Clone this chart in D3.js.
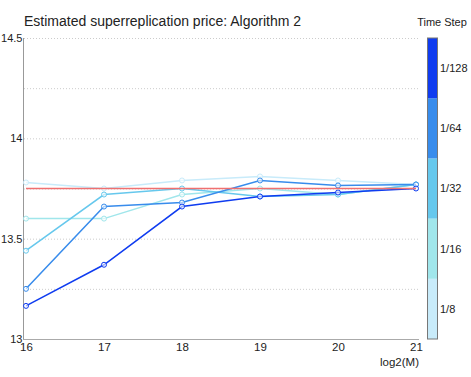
<!DOCTYPE html>
<html lang="en">
<head>
<meta charset="UTF-8">
<title>Estimated superreplication price: Algorithm 2</title>
<script src="https://d3js.org/d3.v7.min.js"></script>
<style>
    body { margin: 0; background: #fff; }
    svg { font-family: "Liberation Sans", Arial, sans-serif; }
    .line { fill: none; stroke-width: 1.5; }
    .dot { fill: #fff; fill-opacity: 0.6; stroke-width: 1; }
    .grid line { stroke: #ccc; stroke-dasharray: 1,2; }
</style>
</head>
<body>
<svg id="chart" width="471" height="377"></svg>
<script>
    // x values (log2 of sample size)
    const logM = [16, 17, 18, 19, 20, 21];

    // one series per time step
    const timeSteps = ["1/8", "1/16", "1/32", "1/64", "1/128"];
    const stepColors = ["#c8ebfa", "#a0e6eb", "#66c8ed", "#388cec", "#0f3cf0"];
    const price_1_8 = [13.78, 13.75, 13.79, 13.81, 13.79, 13.77];
    const price_1_16 = [13.60, 13.60, 13.72, 13.75, 13.72, 13.77];
    const price_1_32 = [13.44, 13.72, 13.75, 13.71, 13.72, 13.77];
    const price_1_64 = [13.25, 13.66, 13.68, 13.79, 13.765, 13.77];
    const price_1_128 = [13.165, 13.37, 13.66, 13.71, 13.73, 13.75];
    const series = [price_1_8, price_1_16, price_1_32, price_1_64, price_1_128];

    // reference price (red line)
    const refPrice = 13.75;

    const yLabelTicks = [13, 13.5, 14, 14.5];
    const yGridTicks = [13.25, 13.5, 13.75, 14, 14.25, 14.5];

    const svg = d3.select("#chart");

    const x = d3.scaleLinear().domain([16, 21]).range([26, 416]);
    const y = d3.scaleLinear().domain([13, 14.5]).range([339, 38]);

    // gridlines
    svg.append("g")
        .attr("class", "grid")
        .selectAll("line")
        .data(yGridTicks)
        .enter().append("line")
        .attr("x1", 24).attr("x2", 419)
        .attr("y1", d => y(d) + 0.5).attr("y2", d => y(d) + 0.5);

    // axes
    const yAxis = svg.append("g")
        .attr("transform", "translate(23.5,0)")
        .call(d3.axisLeft(y).tickValues(yLabelTicks).tickSize(0).tickPadding(1).tickFormat(d3.format("")));
    yAxis.select(".domain").attr("stroke", "#999").attr("d", `M0,${y(14.5)}V${y(13)}`);
    yAxis.selectAll("text").attr("font-size", 11).attr("fill", "#222").attr("font-family", "Liberation Sans, Arial, sans-serif");

    const xAxis = svg.append("g")
        .attr("transform", "translate(0,339.5)")
        .call(d3.axisBottom(x).tickValues(logM).tickSize(0).tickPadding(3).tickFormat(d3.format("d")));
    xAxis.select(".domain").attr("stroke", "#aaa").attr("d", "M23,0H419");
    xAxis.selectAll("text").attr("font-size", 11.5).attr("fill", "#222").attr("font-family", "Liberation Sans, Arial, sans-serif");

    svg.append("text")
        .attr("x", 419).attr("y", 366)
        .attr("text-anchor", "end")
        .attr("font-size", 11.5)
        .attr("fill", "#222")
        .text("log2(M)");

    // series lines and markers
    const line = d3.line().x((d, i) => x(logM[i])).y(d => y(d));
    series.forEach((vals, k) => {
        svg.append("path")
            .datum(vals)
            .attr("class", "line")
            .attr("stroke", stepColors[k])
            .attr("d", line);
        svg.selectAll(".dot-" + k)
            .data(vals)
            .enter().append("circle")
            .attr("class", "dot dot-" + k)
            .attr("stroke", stepColors[k])
            .attr("cx", (d, i) => x(logM[i]))
            .attr("cy", d => y(d))
            .attr("r", 2.5);
    });

    // reference line
    svg.append("line")
        .attr("x1", x(16)).attr("x2", x(21))
        .attr("y1", y(refPrice)).attr("y2", y(refPrice))
        .attr("stroke", "#f07070")
        .attr("stroke-width", 1.5);

    // title
    svg.append("text")
        .attr("x", 24).attr("y", 26)
        .attr("font-size", 14)
        .attr("fill", "#222")
        .text("Estimated superreplication price: Algorithm 2");

    // colour bar legend (top = finest step)
    const bandScale = d3.scaleBand()
        .domain(timeSteps.slice().reverse())
        .range([38, 339]);
    const legend = svg.append("g");
    legend.selectAll("rect")
        .data(timeSteps)
        .enter().append("rect")
        .attr("x", 427.5)
        .attr("y", d => bandScale(d))
        .attr("width", 10)
        .attr("height", bandScale.bandwidth())
        .attr("fill", (d, i) => stepColors[i]);
    legend.append("rect")
        .attr("x", 427.5).attr("y", 38)
        .attr("width", 10).attr("height", 301)
        .attr("fill", "none")
        .attr("stroke", "#777");
    legend.selectAll("text.step")
        .data(timeSteps)
        .enter().append("text")
        .attr("class", "step")
        .attr("x", 440)
        .attr("y", d => bandScale(d) + bandScale.bandwidth() / 2)
        .attr("dy", "0.35em")
        .attr("font-size", 11)
        .attr("fill", "#222")
        .text(d => d);
    legend.append("text")
        .attr("x", 442).attr("y", 26)
        .attr("text-anchor", "middle")
        .attr("font-size", 11)
        .attr("fill", "#222")
        .text("Time Step");
</script>
</body>
</html>
